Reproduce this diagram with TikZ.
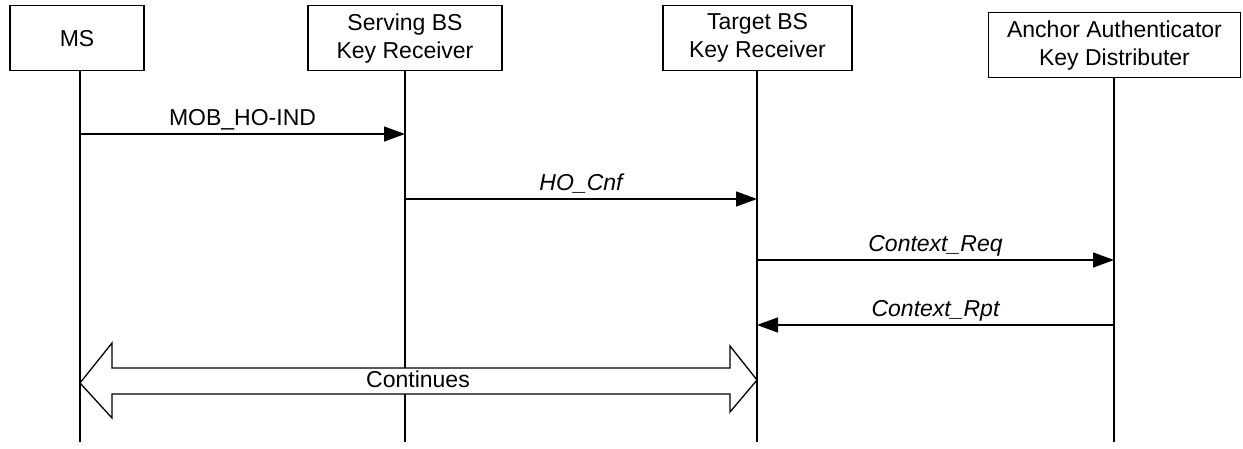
\documentclass[tikz,border=0pt]{standalone}
\usepackage{fontspec}
\setmainfont{Liberation Sans}
\usetikzlibrary{arrows.meta}
\begin{document}
\begin{tikzpicture}[x=1pt,y=-1pt,
  font=\fontsize{23}{28}\selectfont,
  line width=1.3pt,
  actor/.style={draw, align=center, inner sep=0pt, anchor=north, minimum height=65pt},
  lifeline/.style={line width=1.3pt},
  msg/.style={-{Triangle[length=21pt,width=15pt]}},
  lbl/.style={anchor=base, yshift=9pt, inner sep=0pt},
  ilbl/.style={lbl, font=\fontsize{23}{28}\selectfont\itshape}]
\useasboundingbox (0,0) rectangle (1243,448);
% actors
\node[actor, minimum width=134pt] (ms) at (77,5) {MS};
\node[actor, minimum width=194pt] (sv) at (405,5) {Serving BS\\Key Receiver};
\node[actor, minimum width=189pt] (tg) at (757.5,5) {Target BS\\Key Receiver};
\node[actor, minimum width=252pt] (an) at (1114.5,12) {Anchor Authenticator\\Key Distributer};
% lifeline ends
\coordinate (msB) at (80,442);
\coordinate (svB) at (405,442);
\coordinate (tgB) at (757,442);
\coordinate (anB) at (1114,442);
\draw[lifeline] (ms.south -| msB) -- (msB);
\draw[lifeline] (sv.south) -- (svB);
\draw[lifeline] (tg.south -| tgB) -- (tgB);
\draw[lifeline] (an.south -| anB) -- (anB);
% message points
\coordinate (ms1) at (80,134);   \coordinate (sv1) at (405,134);
\coordinate (sv2) at (405,199);  \coordinate (tg2) at (757,199);
\coordinate (tg3) at (757,260);  \coordinate (an3) at (1114,260);
\coordinate (an4) at (1114,325); \coordinate (tg4) at (757,325);
\draw[msg] (ms1) -- (sv1) node[lbl, midway] {MOB\_HO-IND};
\draw[msg] (sv2) -- (tg2) node[ilbl, midway] {HO\_Cnf};
\draw[msg] (tg3) -- (an3) node[ilbl, midway] {Context\_Req};
\draw[msg] (an4) -- (tg4) node[ilbl, midway] {Context\_Rpt};
% continues double arrow
\coordinate (cL) at (80,383);
\coordinate (cR) at (757,380);
\draw[line join=miter, fill=white] (cL) -- (112,343) -- (112,368) -- (730,368) -- (730,346) -- (cR)
  -- (730,412) -- (730,394) -- (112,394) -- (112,418) -- cycle;
\node[anchor=base, inner sep=0pt] (cont) at (418,387) {Continues};
\end{tikzpicture}
\end{document}
